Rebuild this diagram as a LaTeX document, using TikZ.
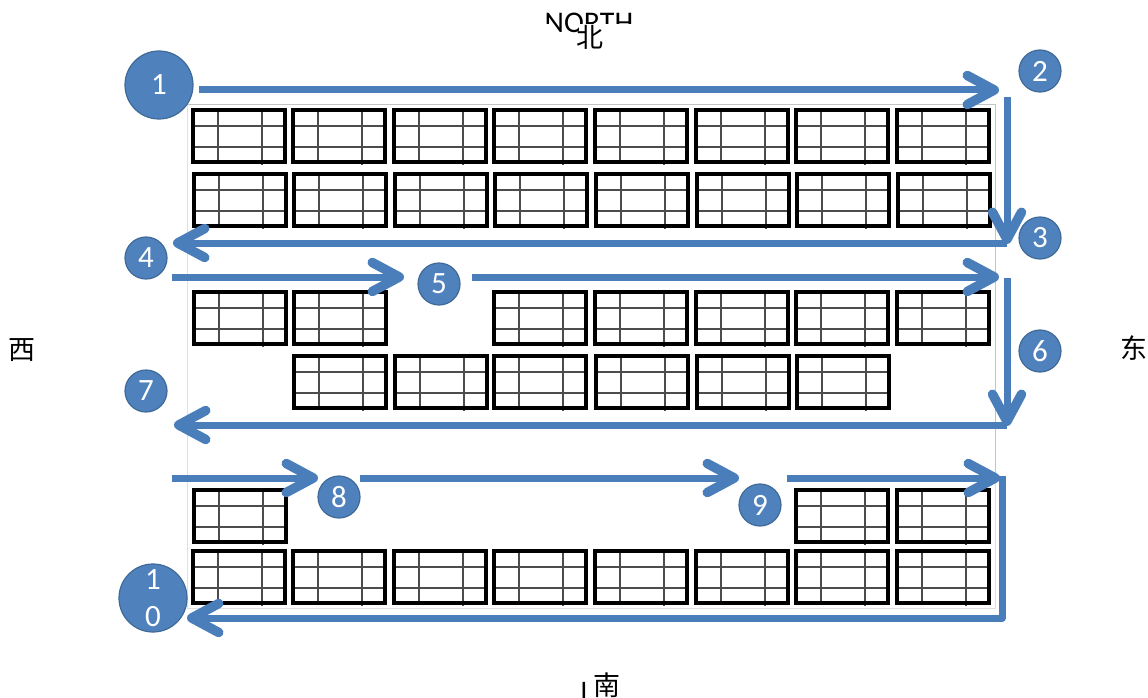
\documentclass[tikz,border=0pt]{standalone}
\usepackage{fontspec}
\setmainfont{Carlito}
\newfontfamily\cjk{Noto Sans CJK SC}
\usetikzlibrary{arrows.meta}
\definecolor{flowblue}{HTML}{4A7EBB}
\definecolor{discblue}{HTML}{4F81BD}
\definecolor{discedge}{HTML}{3F6A97}
\definecolor{framegray}{HTML}{C4C4C4}
\definecolor{disclabel}{HTML}{FFFFFF}
\tikzset{
  x=1pt,y=-1pt,
  flow/.style={draw=flowblue,line width=7pt,-{Straight Barb[length=27pt,width=29pt,line width=9.5pt,round]}},
  numdisc/.style={circle,fill=discblue,draw=discedge,line width=1.2pt,text=disclabel,inner sep=0pt,minimum size=42pt,font=\fontsize{31}{31}\selectfont},
  bigdisc/.style={numdisc,minimum size=68pt},
  compass/.style={inner sep=0pt,font=\cjk\fontsize{27}{27}\selectfont},
  faint/.style={draw=framegray,line width=0.8pt},
  panelbox/.style={draw=black,line width=3.6pt,minimum width=92.2pt,minimum height=52.2pt,inner sep=0pt,outer sep=0pt,anchor=north west},
}
\newcommand{\panel}[3]{%
  \draw[black!70,line width=1.3pt]
    (#1+27,#2+2) -- (#1+27,#2+55)
    (#1+71,#2+2) -- (#1+71,#2+57)
    (#1+2,#2+18) -- (#1+93,#2+18)
    (#1+2,#2+39) -- (#1+93,#2+39);
  \node[panelbox] (#3) at (#1+1.8,#2+1.8) {};
}
\begin{document}
\begin{tikzpicture}
\useasboundingbox (0,0) rectangle (1148,698);
% faint frame of the pasted picture
\draw[faint] (187,104) -- (995,104) -- (995,480);
\draw[faint,draw=framegray!50] (187,104) -- (187,608) -- (995,608) -- (995,480);
% panels
\foreach \x [count=\k] in {191,291,392,492,593,694,794,895} {\panel{\x}{108}{a\k}}
\foreach \x [count=\k] in {192,292,393,493,594,695,795,896} {\panel{\x}{172}{b\k}}
\foreach \x [count=\k] in {192,292,492,593,694,794,895} {\panel{\x}{290}{c\k}}
\foreach \x [count=\k] in {292,393,492,594,695,795} {\panel{\x}{354}{d\k}}
\foreach \x [count=\k] in {192,794,895} {\panel{\x}{488}{e\k}}
\foreach \x [count=\k] in {191,291,392,492,593,694,794,895} {\panel{\x}{549}{f\k}}
% discs
\node[bigdisc] (n1) at (159,85) {1};
\node[numdisc] (n2) at (1040,71) {2};
\node[numdisc] (n3) at (1040,238) {3};
\node[numdisc] (n4) at (146,258) {4};
\node[numdisc] (n5) at (439,284) {5};
\node[numdisc] (n6) at (1040,351) {6};
\node[numdisc] (n7) at (146,391) {7};
\node[numdisc] (n8) at (339,497) {8};
\node[numdisc] (n9) at (760,505) {9};
\node[bigdisc,align=center,font=\fontsize{31}{37}\selectfont] (n10) at (153,598) {1\\0};
% connector ends
\coordinate (p1s) at (199,90);   \coordinate (p1e) at (999,90);
\coordinate (p2s) at (1007,97);  \coordinate (p2e) at (1007,244);
\coordinate (p3s) at (1007,243); \coordinate (p3e) at (173,243);
\coordinate (p4s) at (172,277);  \coordinate (p4e) at (404,277);
\coordinate (p5s) at (472,277);  \coordinate (p5e) at (999,277);
\coordinate (p6s) at (1007,278); \coordinate (p6e) at (1007,426);
\coordinate (p7s) at (1007,425); \coordinate (p7e) at (174,425);
\coordinate (p8s) at (172,478);  \coordinate (p8e) at (318,478);
\coordinate (p9s) at (360,478);  \coordinate (p9e) at (739,478);
\coordinate (p10s) at (787,478); \coordinate (p10e) at (1000,478);
\coordinate (p11s) at (1002,476);\coordinate (p11c) at (1002,618);\coordinate (p11e) at (187,618);
\draw[flow] (p1s) -- (p1e);
\draw[flow] (p2s) -- (p2e);
\draw[flow] (p3s) -- (p3e);
\draw[flow] (p4s) -- (p4e);
\draw[flow] (p5s) -- (p5e);
\draw[flow] (p6s) -- (p6e);
\draw[flow] (p7s) -- (p7e);
\draw[flow] (p8s) -- (p8e);
\draw[flow] (p9s) -- (p9e);
\draw[flow] (p10s) -- (p10e);
\draw[flow,line join=round] (p11s) -- (p11c) -- (p11e);
% compass labels
\begin{scope}
\clip (540,12) -- (640,12) -- (640,24) -- (578,24) -- (578,34) -- (556,34) -- (549,24) -- (540,24) -- cycle;
\node[anchor=base,inner sep=0pt,font=\fontsize{30}{30}\selectfont] (north) at (589,33) {NORTH};
\end{scope}
\node[compass] (bei) at (590,37) {北};
\node[anchor=base,inner sep=0pt,font=\fontsize{29}{29}\selectfont] (south) at (584,702) {l};
\node[compass] (nan) at (607,685) {南};
\node[compass] (xi) at (22,350) {西};
\node[compass] (dong) at (1134,348) {东};
\end{tikzpicture}
\end{document}
